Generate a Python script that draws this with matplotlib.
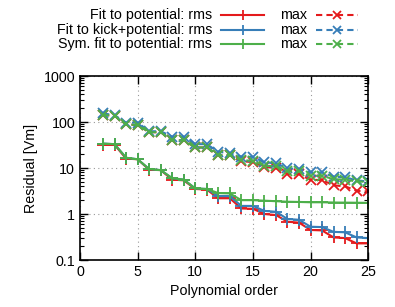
import matplotlib
matplotlib.use("Agg")
import matplotlib.pyplot as plt
from matplotlib.lines import Line2D
from matplotlib.ticker import FuncFormatter, LogLocator, NullFormatter

plt.rcParams['font.family'] = ['Liberation Sans', 'DejaVu Sans']

order = list(range(2, 26))

pot_rms = [32, 32, 16, 15.5, 9.2, 9.0, 5.6, 5.4, 3.5, 3.4, 2.2, 2.2, 1.32, 1.3,
           1.0, 0.95, 0.68, 0.65, 0.45, 0.44, 0.31, 0.30, 0.23, 0.23]
pot_max = [142, 137, 89, 86, 60, 60, 40, 40, 28, 28, 19, 19, 14, 13.5,
           10.5, 10.1, 7.4, 7.4, 5.5, 5.5, 4.2, 4.0, 3.2, 3.1]
kick_rms = [34, 33, 16.7, 15.5, 9.5, 9.0, 6.0, 5.6, 3.6, 3.5, 2.45, 2.45, 1.5, 1.5,
            1.17, 1.12, 0.78, 0.75, 0.53, 0.52, 0.41, 0.40, 0.31, 0.30]
kick_max = [155, 140, 97, 97, 63, 63, 48, 48, 33, 33, 22.5, 21, 17.6, 17.5,
            13.2, 12.8, 9.8, 9.6, 8.0, 8.0, 6.5, 6.3, 5.4, 5.1]
sym_rms = [34, 33, 16.7, 15.5, 9.5, 9.0, 6.0, 5.6, 3.6, 3.5, 2.85, 2.8, 2.0, 2.0,
           1.95, 1.9, 1.85, 1.83, 1.8, 1.8, 1.78, 1.77, 1.76, 1.75]
sym_max = [142, 137, 89, 86, 60, 60, 40, 40, 28, 28, 19, 19, 14.8, 14.4,
           11.2, 11.0, 8.5, 8.5, 6.8, 6.8, 5.7, 5.6, 5.1, 5.0]

labels = ["Fit to potential: rms", "Fit to kick+potential: rms", "Sym. fit to potential: rms"]
colors = ["#e41a1c", "#377eb8", "#4daf4a"]

fig = plt.figure(figsize=(3.95, 3.07), dpi=100)
ax = fig.add_axes([0.2025, 0.153, 0.7295, 0.5994])

series = [(pot_rms, pot_max), (kick_rms, kick_max), (sym_rms, sym_max)]
for (rms, mx), c in zip(series, colors):
    ax.plot(order, rms, color=c, lw=1.5, marker='+', ms=8, mew=1.3)
    ax.plot(order, mx, color=c, lw=1.5, ls=(0, (3, 2)), marker='x', ms=7, mew=1.3)

ax.set_yscale('log')
ax.set_xlim(0, 25)
ax.set_ylim(0.1, 1000)
ax.set_xticks([0, 5, 10, 15, 20, 25])
ax.yaxis.set_major_locator(LogLocator(base=10, numticks=10))
ax.yaxis.set_minor_locator(LogLocator(base=10, subs=range(2, 10), numticks=10))
ax.yaxis.set_major_formatter(FuncFormatter(lambda v, p: '%g' % v))
ax.yaxis.set_minor_formatter(NullFormatter())
ax.tick_params(which='both', direction='in', top=True, right=True, labelsize=10.3)
ax.tick_params(which='major', length=6, width=1)
ax.tick_params(which='minor', length=3, width=0.8)
ax.grid(True, which='major', ls=(0, (1, 3)), color='#999999', lw=0.8)
for s in ax.spines.values():
    s.set_linewidth(1.2)
ax.set_xlabel("Polynomial order", fontsize=10.3)
ax.set_ylabel("Residual [Vm]", fontsize=10.3)

# legend built by hand, gnuplot style
W, H = 395.0, 307.0
rows_y = [15, 30, 44]
for lab, c, y in zip(labels, colors, rows_y):
    fy = 1 - y / H
    fig.text(212 / W, fy, lab, ha='right', va='center', fontsize=10.3)
    fig.add_artist(Line2D([221 / W, 264 / W], [fy, fy], color=c, lw=1.5))
    fig.add_artist(Line2D([242.5 / W], [fy], color=c, marker='+', ms=7, mew=1.3))
    fig.text(307 / W, fy, "max", ha='right', va='center', fontsize=10.3)
    fig.add_artist(Line2D([316 / W, 358 / W], [fy, fy], color=c, lw=1.5, ls=(0, (3, 2))))
    fig.add_artist(Line2D([337 / W], [fy], color=c, marker='x', ms=6, mew=1.3))

fig.savefig("out.png", dpi=100)
